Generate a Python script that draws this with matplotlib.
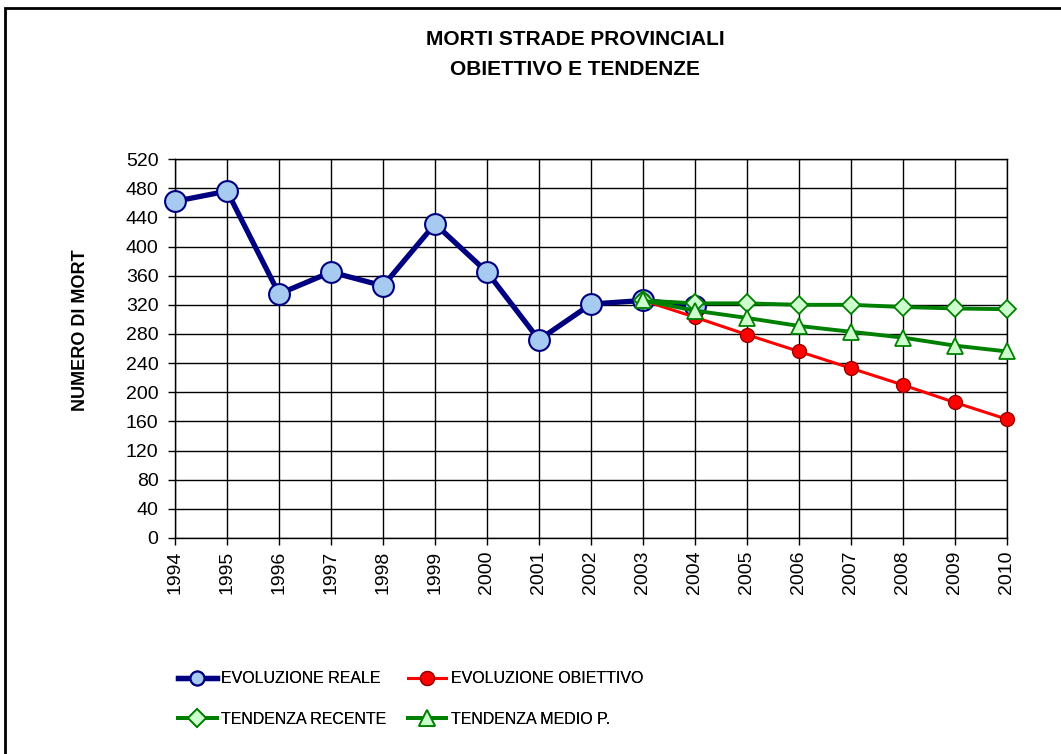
import matplotlib
matplotlib.use("Agg")
import matplotlib.pyplot as plt
from matplotlib.patches import Rectangle
from matplotlib.lines import Line2D

anni = list(range(1994, 2011))

anni_reali = list(range(1994, 2005))
reale = [462, 476, 335, 365, 346, 431, 365, 272, 321, 326, 318]

anni_prev = list(range(2003, 2011))
obiettivo = [326, 303, 279, 256, 233, 210, 186, 163]
recente = [326, 322, 322, 320, 320, 317, 315, 314]
medio = [326, 312, 302, 291, 283, 275, 264, 256]

plt.rcParams['font.family'] = ['Liberation Sans', 'DejaVu Sans']

fig = plt.figure(figsize=(10.61, 7.54), dpi=100)
ax = fig.add_axes([0.165, 0.2865, 0.784, 0.5025])

stili = [
    dict(color='#000080', lw=3.8, marker='o', mfc='#A6CAF0', mec='#000080', mew=1.5),
    dict(color='#FF0000', lw=2.2, marker='o', mfc='#FF0000', mec='#990000', mew=1.0),
    dict(color='#008000', lw=2.8, marker='D', mfc='#CCFFCC', mec='#008000', mew=1.3),
    dict(color='#008000', lw=2.8, marker='^', mfc='#CCFFCC', mec='#008000', mew=1.3),
]
etichette = ['EVOLUZIONE REALE', 'EVOLUZIONE OBIETTIVO', 'TENDENZA RECENTE', 'TENDENZA MEDIO P.']

ax.plot(anni_reali, reale, ms=15, clip_on=False, zorder=3, **stili[0])
ax.plot(anni_prev, obiettivo, ms=10, clip_on=False, zorder=4, **stili[1])
ax.plot(anni_prev, recente, ms=9, clip_on=False, zorder=5, **stili[2])
ax.plot(anni_prev, medio, ms=12, clip_on=False, zorder=6, **stili[3])

ax.set_xlim(1994, 2010)
ax.set_ylim(0, 520)
ax.set_xticks(anni)
ax.set_xticklabels([str(a) for a in anni], rotation=90, fontsize=14)
ax.set_yticks(range(0, 521, 40))
ax.tick_params(axis='y', labelsize=14, length=5, width=1, direction='out', pad=7)
ax.tick_params(axis='x', length=5, width=1, direction='out', pad=4)
ax.grid(True, color='black', lw=1)
ax.set_axisbelow(True)
for s in ax.spines.values():
    s.set_color('black')
    s.set_linewidth(1)

fig.text(0.076, 0.562, 'NUMERO DI MORT', rotation=90, ha='center', va='center',
         fontsize=13, fontweight='bold')

fig.text(0.542, 0.948, 'MORTI STRADE PROVINCIALI', ha='center', va='center',
         fontsize=15, fontweight='bold')
fig.text(0.542, 0.908, 'OBIETTIVO E TENDENZE', ha='center', va='center',
         fontsize=15, fontweight='bold')

# legenda in due colonne: (reale, recente) e (obiettivo, medio)
dim_leg = [10, 10, 9, 12]
maniglie = [Line2D([], [], ms=m, **s) for s, m in zip(stili, dim_leg)]
for x0, idx in [(0.168, [0, 2]), (0.3845, [1, 3])]:
    leg = fig.legend([maniglie[i] for i in idx], [etichette[i] for i in idx],
                     loc='center left', bbox_to_anchor=(x0, 0.073),
                     frameon=False, handlelength=2.4, labelspacing=1.6,
                     handletextpad=0.3, borderpad=0, borderaxespad=0,
                     fontsize=11.5)
    fig.add_artist(leg)

fig.patches.append(Rectangle((0.0047, -0.1), 1.2, 1.089, transform=fig.transFigure,
                             fill=False, edgecolor='black', lw=2))

fig.savefig('out.png', dpi=100)
